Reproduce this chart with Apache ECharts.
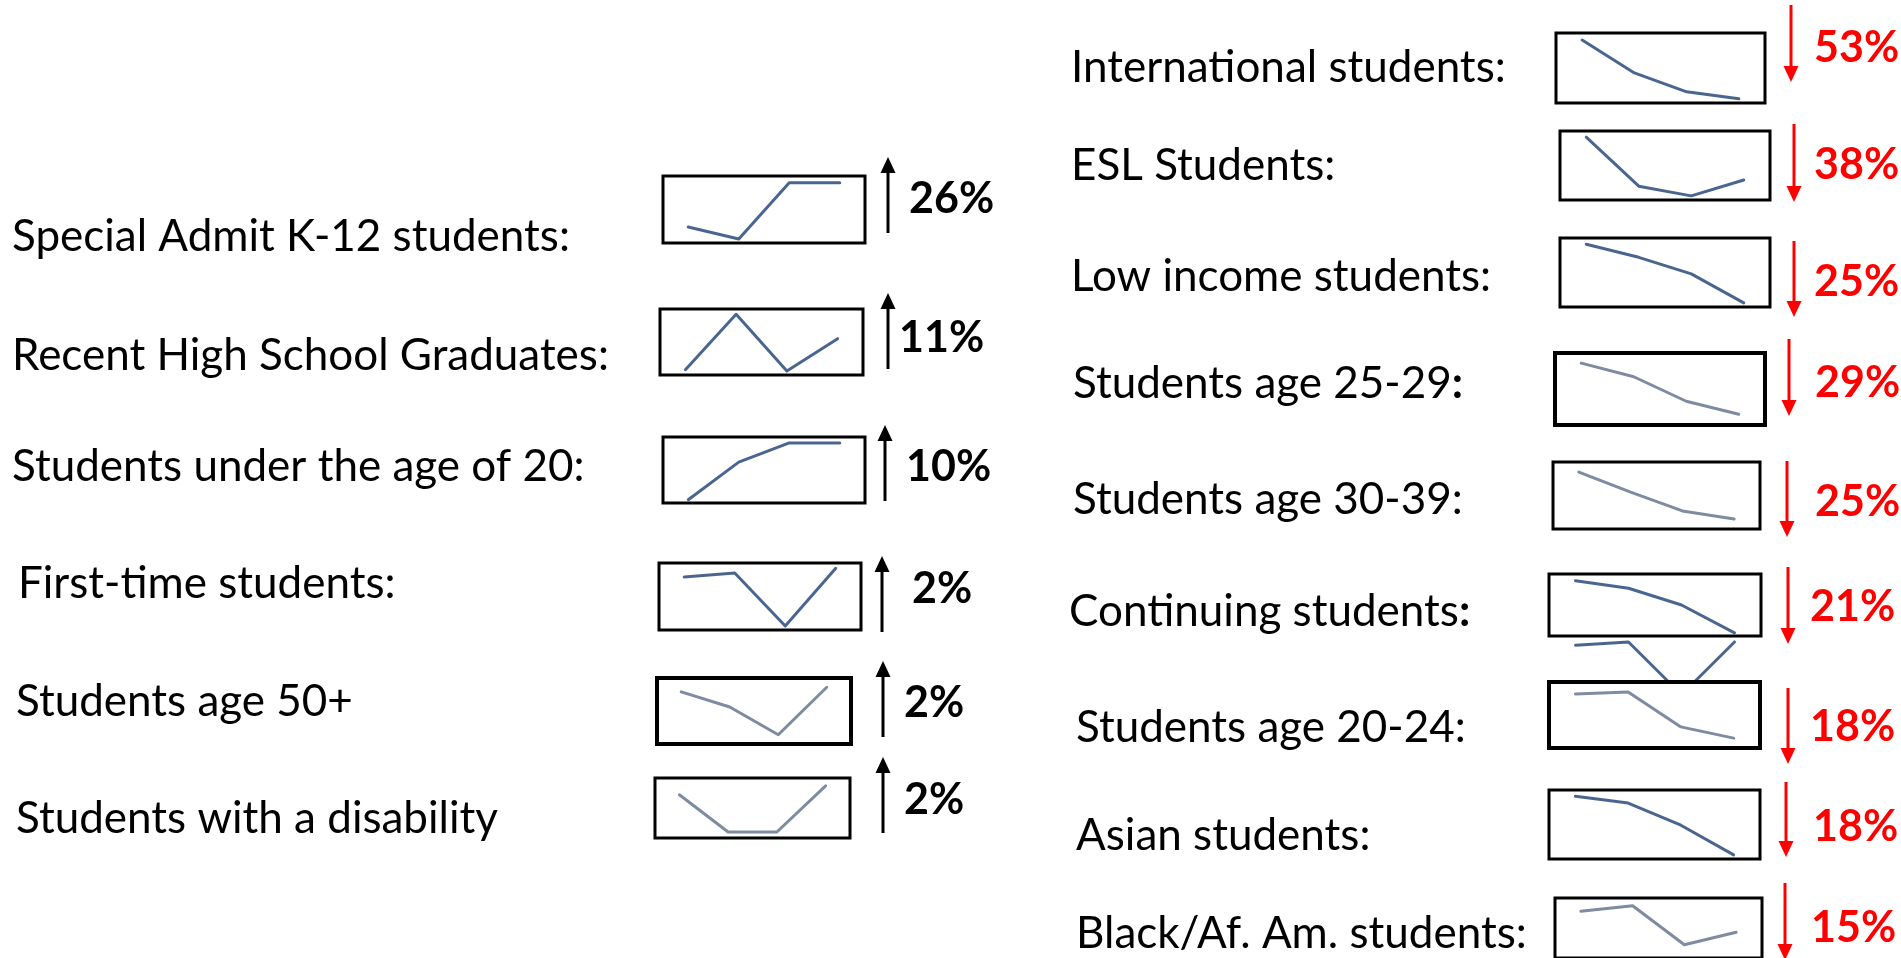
<!DOCTYPE html>
<html><head><meta charset="utf-8">
<script src="https://cdn.jsdelivr.net/npm/echarts@6/dist/echarts.min.js"></script>
<style>html,body{margin:0;padding:0;background:#fff;overflow:hidden}#c{width:1901px;height:958px}</style>
</head><body><div id="c"></div>
<script>
// ---------- DATA ----------
const periods = ['T1', 'T2', 'T3', 'T4'];

const leftLabels = [
  'Special Admit K-12 students:',
  'Recent High School Graduates:',
  'Students under the age of 20:',
  'First-time students:',
  'Students age 50+',
  'Students with a disability'
];
const leftValues = [
  [24, 6, 90, 90],
  [8, 92, 6, 55],
  [5, 62, 91, 91],
  [79, 85, 6, 92],
  [79, 56, 14, 86],
  [72, 10, 10, 87]
];
const leftChange = [26, 11, 10, 2, 2, 2];

const rightLabels = [
  'International students:',
  'ESL Students:',
  'Low income students:',
  'Students age 25-29:',
  'Students age 30-39:',
  'Continuing students:',
  'Students age 20-24:',
  'Asian students:',
  'Black/Af. Am. students:'
];
const rightValues = [
  [90, 43, 16, 6],
  [91, 20, 6, 29],
  [91, 72, 48, 6],
  [86, 67, 33, 15],
  [85, 55, 27, 15],
  [89, 77, 50, 5],
  [82, 85, 32, 15],
  [91, 81, 49, 6],
  [78, 87, 22, 43]
];
const rightChange = [-53, -38, -25, -29, -25, -21, -18, -18, -15];

// stray sparkline that overlaps the "Students age 20-24" box
const strayValues = [86, 91, 11, 91];

// ---------- LAYOUT (positions / sizes / styles) ----------
const leftBoxes = [
  [663, 176, 202, 67], [660, 309, 203, 66], [663, 437, 202, 66],
  [659, 563, 202, 67], [657, 678, 194, 66], [655, 778, 195, 60]
];
const rightBoxes = [
  [1556, 33, 209, 70], [1560, 131, 210, 69], [1560, 238, 210, 69],
  [1555, 353, 210, 72], [1553, 462, 207, 67], [1549, 574, 212, 62],
  [1549, 682, 211, 66], [1549, 790, 211, 69], [1555, 898, 207, 70]
];
const strayBox = [1549, 636, 212, 66];
const leftBorder = [3, 3, 3, 3, 4, 3];
const rightBorder = [3, 3, 3, 4, 3, 3, 4, 3, 3];
const rightBoldColon = [false, false, false, true, false, true, false, false, false];
const DARK = '#4a6690', LIGHT = '#7f8ba0';
const leftLine = [DARK, DARK, DARK, DARK, LIGHT, LIGHT];
const rightLine = [DARK, DARK, DARK, LIGHT, LIGHT, DARK, LIGHT, DARK, LIGHT];

const leftText = [[12, 237], [12, 356], [12, 467], [18, 584], [16, 702], [16, 819]];
const rightText = [[1071, 68], [1071, 166], [1071, 277], [1073, 384], [1073, 500], [1069, 612], [1076, 728], [1076, 836], [1076, 934]];
const leftPct = [[909, 199], [899, 338], [906, 467], [912, 589], [904, 703], [904, 800]];
const rightPct = [[1814, 48], [1814, 165], [1814, 282], [1815, 383], [1815, 502], [1810, 607], [1810, 727], [1813, 827], [1811, 928]];
const leftArrows = [[888, 157, 233], [888, 293, 369], [885, 425, 501], [882, 556, 632], [883, 661, 737], [883, 757, 833]];
const rightArrows = [[1791, 5, 82], [1794, 124, 202], [1794, 241, 317], [1789, 339, 416], [1787, 461, 537], [1788, 567, 644], [1788, 688, 764], [1786, 782, 857], [1785, 883, 960]];

const FONT = 'Lato, "Open Sans", sans-serif';
const LABEL_SIZE = 44, PCT_SIZE = 43;

// ---------- BUILD ----------
const grid = [], xAxis = [], yAxis = [], series = [], graphic = [];

function addSpark(box, values, color, bw, opt) {
  opt = opt || {};
  const i = grid.length;
  grid.push({
    left: box[0], top: box[1], width: box[2], height: box[3],
    show: !opt.noBox, borderColor: '#000', borderWidth: bw || 3,
    backgroundColor: opt.noBox ? 'transparent' : '#fff',
    z: opt.gridZ != null ? opt.gridZ : 3
  });
  xAxis.push({ type: 'category', gridIndex: i, data: periods, show: false, boundaryGap: true });
  yAxis.push({ type: 'value', gridIndex: i, min: 0, max: 100, show: false });
  series.push({
    type: 'line', xAxisIndex: i, yAxisIndex: i, data: values,
    symbol: 'none', silent: true, animation: false,
    z: opt.seriesZ != null ? opt.seriesZ : 5,
    lineStyle: { color: color, width: 3, cap: 'round', join: 'round' }
  });
}

function addArrow(a, up, color, lw) {
  const x = a[0], top = a[1], bot = a[2];
  const headL = 16, headW = 15;
  if (up) {
    graphic.push({ type: 'line', silent: true, shape: { x1: x, y1: bot, x2: x, y2: top + headL - 1 }, style: { stroke: color, lineWidth: lw } });
    graphic.push({ type: 'polygon', silent: true, shape: { points: [[x, top], [x - headW / 2, top + headL], [x + headW / 2, top + headL]] }, style: { fill: color } });
  } else {
    graphic.push({ type: 'line', silent: true, shape: { x1: x, y1: top, x2: x, y2: bot - headL + 1 }, style: { stroke: color, lineWidth: lw } });
    graphic.push({ type: 'polygon', silent: true, shape: { points: [[x, bot], [x - headW / 2, bot - headL], [x + headW / 2, bot - headL]] }, style: { fill: color } });
  }
}

function addText(pos, txt, size, weight, color) {
  graphic.push({
    type: 'text', silent: true, x: pos[0], y: pos[1],
    style: { text: txt, font: weight + ' ' + size + 'px ' + FONT, fill: color, verticalAlign: 'middle', align: 'left' }
  });
}

function addLabelBoldColon(pos, txt, size) {
  const body = txt.replace(/:$/, '');
  graphic.push({
    type: 'text', silent: true, x: pos[0], y: pos[1],
    style: {
      text: '{a|' + body + '}{b|:}',
      verticalAlign: 'middle', align: 'left',
      rich: {
        a: { fontFamily: FONT, fontSize: size, fontWeight: 'normal', fill: '#000' },
        b: { fontFamily: FONT, fontSize: size, fontWeight: 'bold', fill: '#000' }
      }
    }
  });
}

// stray line first, drawn beneath the 20-24 box
addSpark(strayBox, strayValues, DARK, 0, { noBox: true, gridZ: 0, seriesZ: 1 });

leftLabels.forEach((lab, k) => {
  addSpark(leftBoxes[k], leftValues[k], leftLine[k], leftBorder[k]);
  addText(leftText[k], lab, LABEL_SIZE, 'normal', '#000');
  const ch = leftChange[k];
  addText(leftPct[k], Math.abs(ch) + '%', PCT_SIZE, 'bold', ch >= 0 ? '#000' : '#ff0000');
  addArrow(leftArrows[k], ch >= 0, ch >= 0 ? '#000' : '#ff0000', 3);
});
rightLabels.forEach((lab, k) => {
  addSpark(rightBoxes[k], rightValues[k], rightLine[k], rightBorder[k]);
  if (rightBoldColon[k]) addLabelBoldColon(rightText[k], lab, LABEL_SIZE);
  else addText(rightText[k], lab, LABEL_SIZE, 'normal', '#000');
  const ch = rightChange[k];
  addText(rightPct[k], Math.abs(ch) + '%', PCT_SIZE, 'bold', ch >= 0 ? '#000' : '#ff0000');
  addArrow(rightArrows[k], ch >= 0, ch >= 0 ? '#000' : '#ff0000', 3);
});

const chart = echarts.init(document.getElementById('c'), null, { renderer: 'canvas' });
chart.setOption({
  backgroundColor: '#fff',
  animation: false,
  grid, xAxis, yAxis, series, graphic
});
</script>
</body></html>
